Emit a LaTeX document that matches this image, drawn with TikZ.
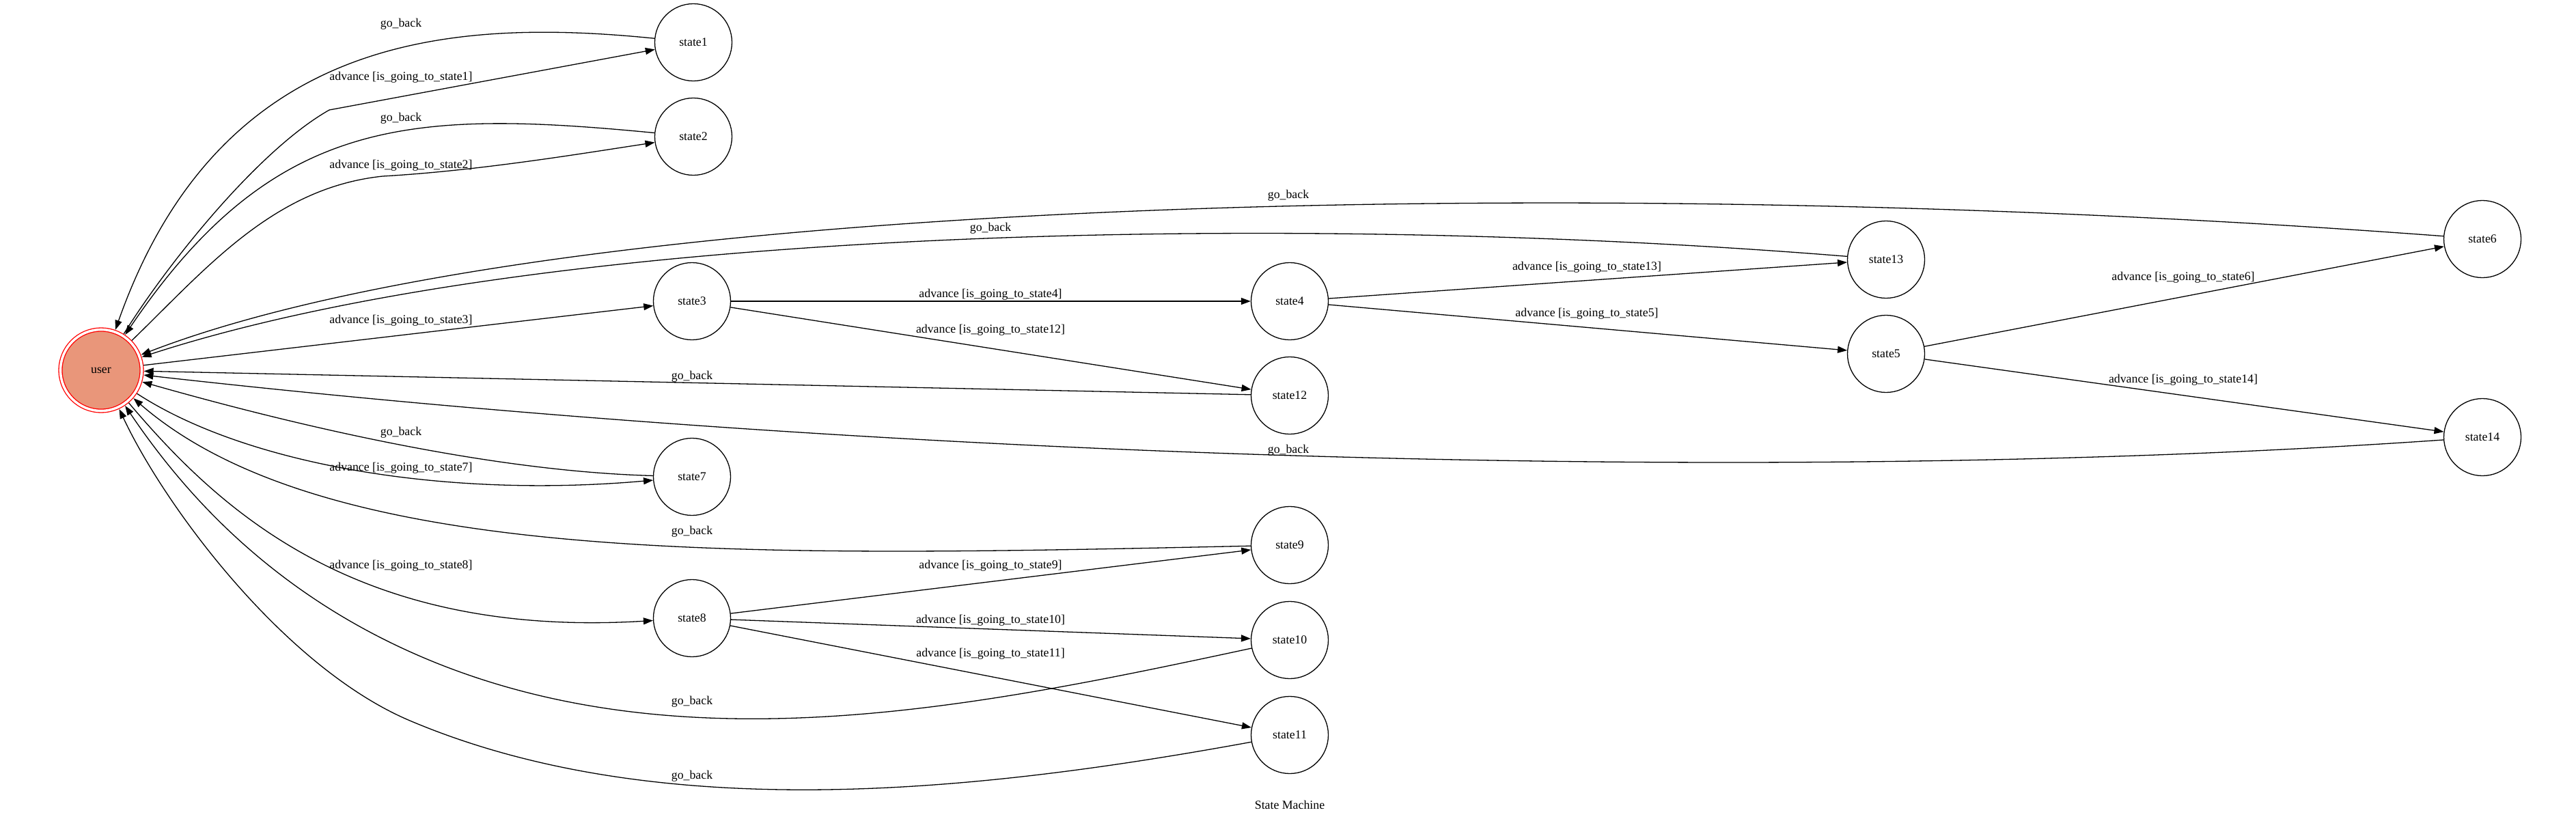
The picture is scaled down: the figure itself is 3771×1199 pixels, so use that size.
\documentclass[tikz,border=0pt]{standalone}
\usepackage{fontspec}
\setmainfont{Liberation Serif}
\usetikzlibrary{arrows.meta}
\definecolor{usrfill}{RGB}{233,150,122}
\newcommand\lblfont{\fontsize{17.8pt}{21pt}\selectfont}
\begin{document}
\begin{tikzpicture}[x=1pt,y=-1pt,
  st/.style={circle,draw=black,line width=1.3pt,minimum size=113pt,inner sep=0pt,font=\lblfont},
  usr/.style={circle,draw=red,double=white,double distance=3.6pt,line width=1.3pt,fill=usrfill,minimum size=119pt,inner sep=0pt,outer sep=3.2pt,font=\lblfont},
  lab/.style={inner sep=0pt,font=\lblfont,text height=12pt,text depth=4pt},
  conn/.style={line width=1.3pt,-{Triangle[length=14pt,width=10pt]}}]
\useasboundingbox (0,0) rectangle (3771,1199);
% nodes
\node[usr] (user) at (148,542) {user};
\node[st] (state1) at (1015,62) {state1};
\node[st] (state2) at (1015,200) {state2};
\node[st] (state3) at (1013,441) {state3};
\node[st] (state7) at (1013,698) {state7};
\node[st] (state8) at (1013,905) {state8};
\node[st] (state4) at (1888,441) {state4};
\node[st] (state12) at (1888,579) {state12};
\node[st] (state9) at (1888,798) {state9};
\node[st] (state10) at (1888,937) {state10};
\node[st] (state11) at (1888,1076) {state11};
\node[st] (state13) at (2761,380) {state13};
\node[st] (state5) at (2761,518) {state5};
\node[st] (state6) at (3634,350) {state6};
\node[st] (state14) at (3634,640) {state14};
\node[lab] (title) at (1888,1180) {State Machine};
% edges
\draw[conn] (user) .. controls (246,385) and (378,220) .. (482,161) -- (state1);
\draw[conn] (state1) .. controls (650,25) and (320,55) .. (user);
\draw[conn] (user) .. controls (302,393) and (400,275) .. (560,258) .. controls (700,250) and (850,225) .. (state2);
\draw[conn] (state2) .. controls (600,160) and (400,170) .. (user);
\draw[conn] (user) -- (state3);
\draw[conn] (state13) .. controls (1900,310) and (800,330) .. (user);
\draw[conn] (state6) .. controls (2300,250) and (800,290) .. (user);
\draw[conn] (state12) -- (user);
\draw[conn] (state14) .. controls (2600,712) and (1300,672) .. (user);
\draw[conn] (state7) .. controls (720,690) and (440,625) .. (user);
\draw[conn] (user) .. controls (360,680) and (650,730) .. (state7);
\draw[conn] (state9) .. controls (1100,815) and (480,830) .. (user);
\draw[conn] (user) .. controls (320,745) and (520,935) .. (state8);
\draw[conn] (state10) .. controls (1441,1033) and (1022,1119) .. (650,975) .. controls (408,881) and (271,724) .. (user);
\draw[conn] (state11) .. controls (1439,1158) and (968,1211) .. (600,1055) .. controls (416,977) and (241,741) .. (user);
\draw[conn] (state3) -- (state4);
\draw[conn] (state3) -- (state12);
\draw[conn] (state4) -- (state13);
\draw[conn] (state4) -- (state5);
\draw[conn] (state5) -- (state6);
\draw[conn] (state5) -- (state14);
\draw[conn] (state8) -- (state9);
\draw[conn] (state8) -- (state10);
\draw[conn] (state8) -- (state11);
% labels
\node[lab] (l1g) at (587,36) {go\_back};
\node[lab] (l1a) at (587,113) {advance [is\_going\_to\_state1]};
\node[lab] (l2g) at (587,173) {go\_back};
\node[lab] (l2a) at (587,242) {advance [is\_going\_to\_state2]};
\node[lab] (l6g) at (1886,286) {go\_back};
\node[lab] (l13g) at (1450,334) {go\_back};
\node[lab] (l3a) at (587,469) {advance [is\_going\_to\_state3]};
\node[lab] (l4a) at (1450,431) {advance [is\_going\_to\_state4]};
\node[lab] (l13a) at (2323,391) {advance [is\_going\_to\_state13]};
\node[lab] (l5a) at (2323,459) {advance [is\_going\_to\_state5]};
\node[lab] (l12a) at (1450,483) {advance [is\_going\_to\_state12]};
\node[lab] (l6a) at (3196,406) {advance [is\_going\_to\_state6]};
\node[lab] (l12g) at (1013,551) {go\_back};
\node[lab] (l14a) at (3196,556) {advance [is\_going\_to\_state14]};
\node[lab] (l7g) at (587,633) {go\_back};
\node[lab] (l14g) at (1886,659) {go\_back};
\node[lab] (l7a) at (587,685) {advance [is\_going\_to\_state7]};
\node[lab] (l9g) at (1013,778) {go\_back};
\node[lab] (l8a) at (587,828) {advance [is\_going\_to\_state8]};
\node[lab] (l9a) at (1450,828) {advance [is\_going\_to\_state9]};
\node[lab] (l10a) at (1450,908) {advance [is\_going\_to\_state10]};
\node[lab] (l11a) at (1450,957) {advance [is\_going\_to\_state11]};
\node[lab] (l10g) at (1013,1027) {go\_back};
\node[lab] (l11g) at (1013,1136) {go\_back};
\end{tikzpicture}
\end{document}
